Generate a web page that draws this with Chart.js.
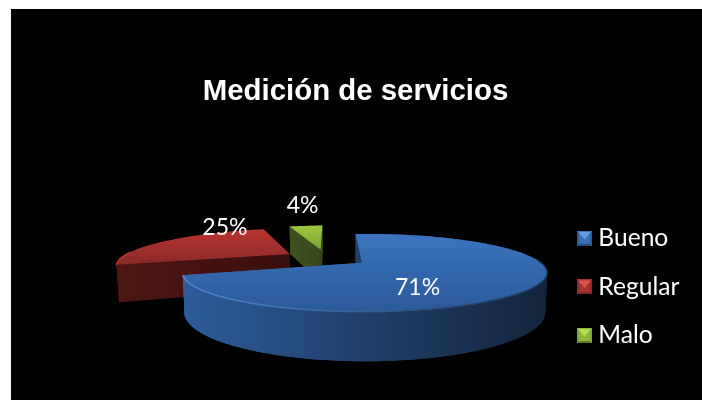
<!DOCTYPE html>
<html><head><meta charset="utf-8">
<style>
html,body{margin:0;padding:0;background:#fff;overflow:hidden}
#wrap{position:absolute;left:11px;top:9px;width:691px;height:391px;background:#000}
</style>
<script src="https://cdn.jsdelivr.net/npm/chart.js@4"></script>
</head><body>
<div id="wrap"><canvas id="c" width="691" height="391"></canvas></div>
<script>
const titleText = 'Medición de servicios';
const categories = ['Bueno', 'Regular', 'Malo'];
const percentages = [71, 25, 4];

// styling
const baseColors = ['#3a70b8', '#a83230', '#8fb53a'];
const topLight   = ['#3b74bf', '#b8332f', '#9cc63f'];
const topDark    = ['#2b5a9a', '#8c2a28', '#7fa535'];
const wallLeft   = ['#2d5c9a', '#4d1612', '#3f5320'];
const wallRight  = ['#13243a', '#3a0f0d', '#38481a'];
const rimLeft    = ['#5189d2', '#b8332f', '#9cc63f'];
const rimRight   = ['#1c3554', '#8c2a28', '#7fa535'];
const iconLight  = ['#5f9fe6', '#e0524e', '#b5dc55'];
const iconDark   = ['#234a80', '#7a2422', '#5f7c28'];
const labelDx = [-26, -1, -11];
const labelDy = [14, -20, -31];

// perspective of the pie plane
const view = {cx: 353.5, cy: 254, R: 176.5, a: 0.2063, k: 0.00145, h: 37, ox: -37, oy: -26, apexShift: -2.7};
function project(X, Y, z) {
  const wx = X + view.ox, wy = Y + view.oy, d = 1 - view.k * wy;
  return [view.cx + wx / d * (z ? 0.99 : 1), view.cy + (view.a * wy + z * view.h) / d];
}
function makeIcon(i) {
  const c = document.createElement('canvas'); c.width = 15; c.height = 15;
  const g = c.getContext('2d'), s = 15, m = 7.5;
  const tri = (pts, col) => { g.fillStyle = col; g.beginPath(); pts.forEach((p, n) => n ? g.lineTo(p[0], p[1]) : g.moveTo(p[0], p[1])); g.closePath(); g.fill(); };
  tri([[0,0],[s,0],[s,s],[0,s]], baseColors[i]);
  tri([[1,1],[s-1,1],[m,m+1]], iconLight[i]);
  tri([[0,s],[s,s],[s-2,s-2],[2,s-2]], iconDark[i]);
  tri([[0,0],[0,s],[2,s-2],[2,2]], topDark[i]);
  tri([[s,0],[s,s],[s-2,s-2],[s-2,2]], topDark[i]);
  return c;
}
const icons = categories.map((_, i) => makeIcon(i));

const pie3d = {
  id: 'pie3d',
  afterLayout(chart) {
    const l = chart.legend;
    l.left = 548; l.right = 691; l.top = 193; l.bottom = 391;
  },
  beforeDatasetsDraw(chart) {
    const ctx = chart.ctx, meta = chart.getDatasetMeta(0);
    const order = meta.data.map((el, i) => i).sort((p, q) => {
      const y = i => Math.sin((meta.data[i].startAngle + meta.data[i].endAngle) / 2);
      return y(p) - y(q);
    });
    for (const i of order) drawSlice(ctx, meta.data[i], i);
    for (let i = 0; i < meta.data.length; i++) {
      const el = meta.data[i], mid = (el.startAngle + el.endAngle) / 2, off = el.options.offset;
      const p = project(Math.cos(mid) * (off + view.R / 2), Math.sin(mid) * (off + view.R / 2), 0);
      ctx.fillStyle = '#fff'; ctx.font = '23px Lato'; ctx.textAlign = 'center'; ctx.textBaseline = 'middle';
      ctx.fillText(percentages[i] + '%', p[0] + labelDx[i], p[1] + labelDy[i]);
    }
    return false;
  }
};
function drawSlice(ctx, el, i) {
  const mid = (el.startAngle + el.endAngle) / 2, off = el.options.offset;
  const bx = Math.cos(mid) * off, by = Math.sin(mid) * off, R = view.R;
  const n = Math.max(6, Math.round((el.endAngle - el.startAngle) * 40));
  const rim = [];
  for (let j = 0; j <= n; j++) {
    const a = el.startAngle + (el.endAngle - el.startAngle) * j / n;
    rim.push([bx + R * Math.cos(a), by + R * Math.sin(a)]);
  }
  const apex = [bx + view.apexShift, by];
  const quads = [];
  for (let j = 0; j < n; j++) quads.push({pts: [rim[j], rim[Math.min(j + 2, n)]]});
  quads.push({pts: [apex, rim[0]]});
  quads.push({pts: [rim[n], apex]});
  quads.sort((p, q) => (p.pts[0][1] + p.pts[1][1]) - (q.pts[0][1] + q.pts[1][1]));

  const poly = rim.concat([apex]).map(p => project(p[0], p[1], 0));
  const xs = poly.map(p => p[0]), ys = poly.map(p => p[1]);
  const x0 = Math.min(...xs), x1 = Math.max(...xs), y0 = Math.min(...ys), y1 = Math.max(...ys);

  const wg = ctx.createLinearGradient(x0, 0, x1, 0);
  wg.addColorStop(0, wallLeft[i]); wg.addColorStop(1, wallRight[i]);
  for (const q of quads) {
    const a = project(q.pts[0][0], q.pts[0][1], 0), b = project(q.pts[1][0], q.pts[1][1], 0);
    const c = project(q.pts[1][0], q.pts[1][1], 1), d = project(q.pts[0][0], q.pts[0][1], 1);
    ctx.fillStyle = wg;
    ctx.beginPath(); ctx.moveTo(a[0], a[1]); ctx.lineTo(b[0], b[1]); ctx.lineTo(c[0], c[1]); ctx.lineTo(d[0], d[1]); ctx.closePath();
    ctx.fill();
  }
  const tg = ctx.createLinearGradient(0, y0, 0, y1);
  tg.addColorStop(0, topLight[i]); tg.addColorStop(1, topDark[i]);
  ctx.fillStyle = tg;
  ctx.beginPath(); poly.forEach((p, j) => j ? ctx.lineTo(p[0], p[1]) : ctx.moveTo(p[0], p[1])); ctx.closePath(); ctx.fill();

  const rg = ctx.createLinearGradient(x0, 0, x1, 0);
  rg.addColorStop(0, rimLeft[i]); rg.addColorStop(1, rimRight[i]);
  ctx.strokeStyle = rg; ctx.lineWidth = 1.5;
  ctx.beginPath();
  let on = false;
  rim.forEach(p => {
    const s = project(p[0], p[1], 0);
    if (p[1] - by > -12) { on ? ctx.lineTo(s[0], s[1]) : ctx.moveTo(s[0], s[1]); on = true; } else on = false;
  });
  ctx.stroke();
}

new Chart(document.getElementById('c'), {
  type: 'pie',
  data: {labels: categories, datasets: [{data: percentages, backgroundColor: baseColors, offset: 45, borderWidth: 0}]},
  options: {
    responsive: false, animation: false, devicePixelRatio: 1, rotation: -3.8,
    layout: {padding: {right: 2}},
    events: [],
    plugins: {
      tooltip: {enabled: false},
      title: {display: true, text: titleText, color: '#fff', font: {family: '"Liberation Sans"', size: 29.4, weight: 'bold'}, padding: {top: 65, bottom: 20}},
      legend: {
        position: 'right', align: 'start', fullSize: false,
        labels: {
          usePointStyle: true, boxWidth: 3, boxHeight: 15, padding: 24, color: '#fff',
          font: {family: 'Lato', size: 24.6},
          generateLabels: c => c.data.labels.map((t, i) => ({text: t, pointStyle: icons[i], fontColor: '#fff', index: i, datasetIndex: 0, hidden: false, lineWidth: 0}))
        }
      }
    }
  },
  plugins: [pie3d]
});
</script>
</body></html>
